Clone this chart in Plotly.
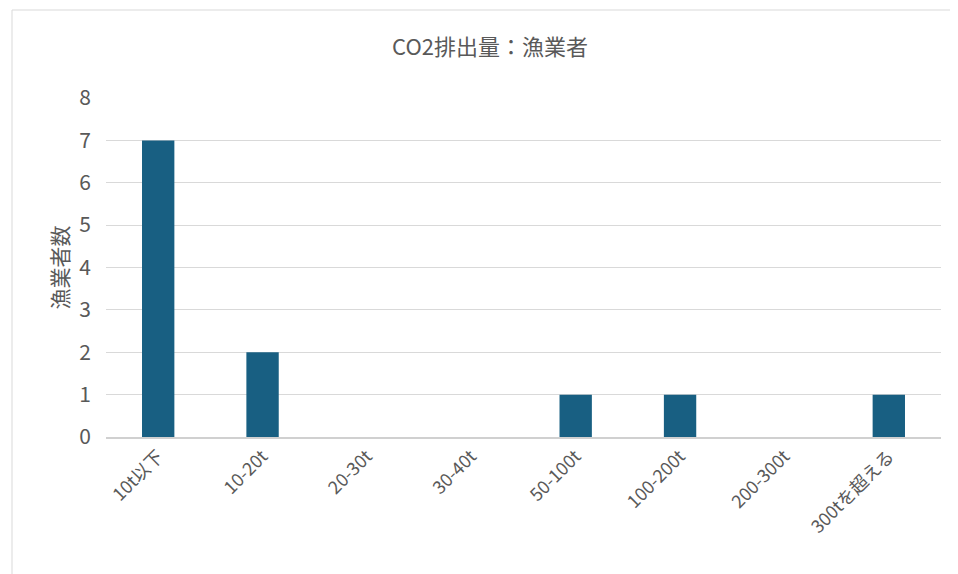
import plotly.graph_objects as go

categories = ["10t以下", "10-20t", "20-30t", "30-40t", "50-100t", "100-200t", "200-300t", "300tを超える"]
values = [7, 2, 0, 0, 1, 1, 0, 1]
y_ticks = [0, 1, 2, 3, 4, 5, 6, 7, 8]

FONT = "Noto Sans CJK JP"
GRAY = "#595959"

fig = go.Figure(go.Bar(x=categories, y=values, marker_color="#185F82", marker_line_width=0))

OFF = 8  # default page body margin
W, H = 958 - OFF, 574 - OFF
L, R, T, B = 106 - OFF, 958 - 941, 98 - OFF, 574 - 437
pw, ph = W - L - R, H - T - B

def px_x(x):
    return (x - OFF - L) / pw

def px_y(y):
    return (H - B - (y - OFF)) / ph

fig.update_layout(
    width=W, height=H,
    margin=dict(l=L, r=R, t=T, b=B),
    paper_bgcolor="white", plot_bgcolor="white",
    bargap=0.69,
    showlegend=False,
    title=dict(text="CO2排出量：漁業者", x=px_x(490), xref="paper", xanchor="center",
               y=1 - (47 - OFF) / H, yanchor="middle",
               font=dict(family=FONT, size=22, color=GRAY)),
    font=dict(family=FONT, color=GRAY),
    xaxis=dict(tickangle=-45, tickfont=dict(size=18, color=GRAY), showgrid=False,
               showline=True, linecolor="#d0d0d0", linewidth=1.5, ticks=""),
    yaxis=dict(range=[0, 8], tickvals=y_ticks, tickfont=dict(size=21, color=GRAY),
               gridcolor="#d9d9d9", gridwidth=1, zeroline=False, showline=False, ticks="",
               ticklabelstandoff=14,
               title=dict(text="漁業者数", font=dict(size=21, color=GRAY), standoff=4)),
    shapes=[dict(type="rect", xref="paper", yref="paper",
                 x0=px_x(12), x1=px_x(957), y0=px_y(580), y1=px_y(10),
                 line=dict(color="#d9d9d9", width=1), layer="below")],
)
fig.write_html("out.html")
